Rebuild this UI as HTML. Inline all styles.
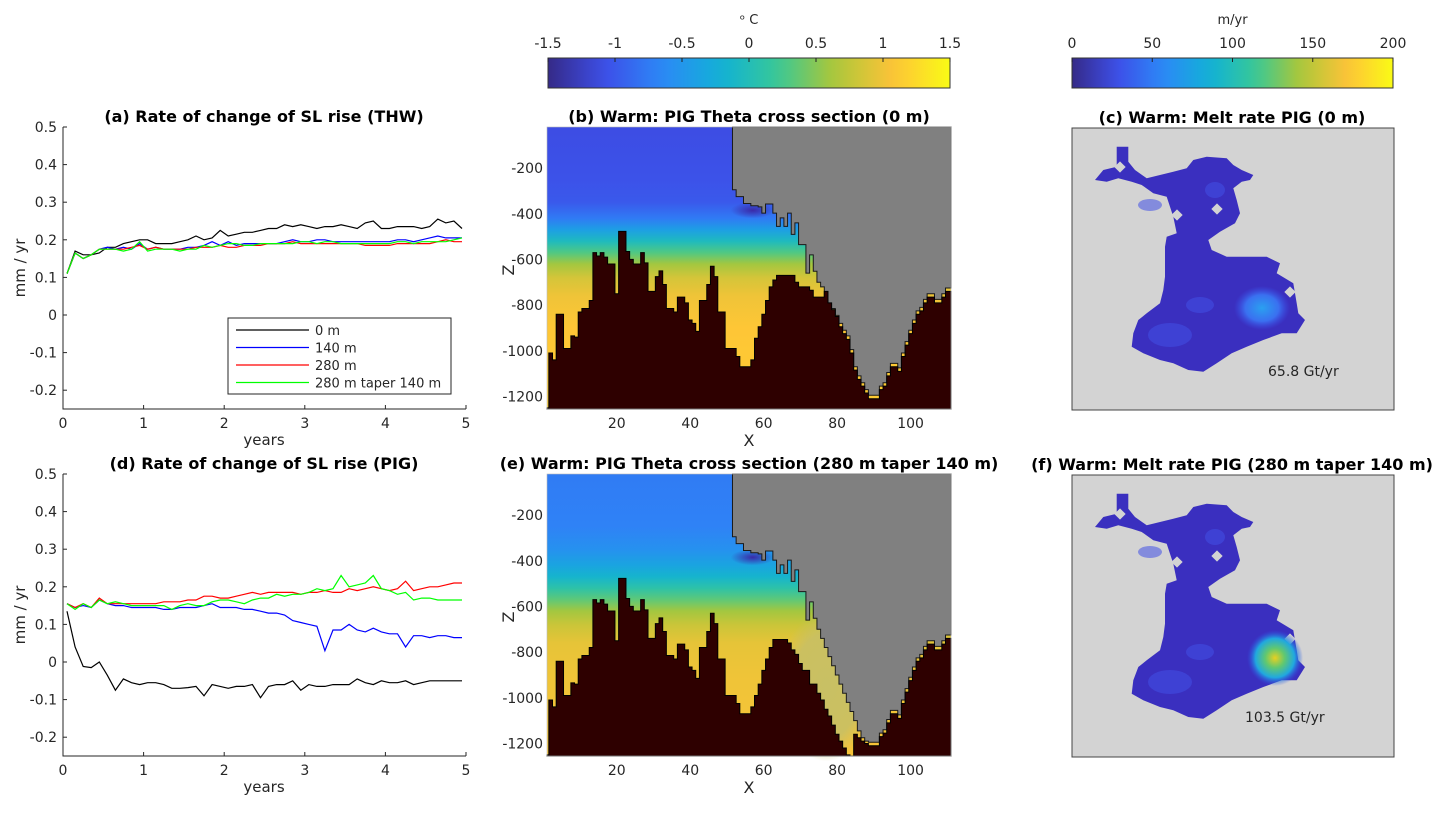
<!DOCTYPE html>
<html><head><meta charset="utf-8"><style>
body{margin:0;background:#fff}
svg text{font-family:"DejaVu Sans","Liberation Sans",sans-serif}
</style></head><body>
<svg id="fig" xmlns="http://www.w3.org/2000/svg" width="1445" height="810" viewBox="0 0 1445 810">
<defs>
<linearGradient id="cb1" x1="0" x2="1" y1="0" y2="0"></linearGradient>
<linearGradient id="gb" gradientUnits="userSpaceOnUse"></linearGradient>
<linearGradient id="ge" gradientUnits="userSpaceOnUse"></linearGradient>
<radialGradient id="hot" cx="0.5" cy="0.5" r="0.5">
<stop offset="0" stop-color="#e8d020"/><stop offset="0.35" stop-color="#60c870"/><stop offset="0.7" stop-color="#20a8e0"/><stop offset="1" stop-color="#3050e8" stop-opacity="0"/>
</radialGradient>
<radialGradient id="warm" cx="0.5" cy="0.5" r="0.5">
<stop offset="0" stop-color="#2aa0f0"/><stop offset="0.6" stop-color="#3a70f0"/><stop offset="1" stop-color="#3a50e8" stop-opacity="0"/>
</radialGradient>
<radialGradient id="plume" cx="0.5" cy="0.5" r="0.5">
<stop offset="0" stop-color="#3a2aa8"/><stop offset="1" stop-color="#3a2aa8" stop-opacity="0"/>
</radialGradient>
<radialGradient id="khaki" cx="0.5" cy="0.5" r="0.5">
<stop offset="0" stop-color="#c8c064"/><stop offset="0.7" stop-color="#c8c064" stop-opacity="0.9"/><stop offset="1" stop-color="#c8c064" stop-opacity="0"/>
</radialGradient>
</defs>
<g id="root"></g>
</svg>
<script>
// ---------- line chart data ----------
const years=[0.05,0.15,0.25,0.35,0.45,0.55,0.65,0.75,0.85,0.95,1.05,1.15,1.25,1.35,1.45,1.55,1.65,1.75,1.85,1.95,2.05,2.15,2.25,2.35,2.45,2.55,2.65,2.75,2.85,2.95,3.05,3.15,3.25,3.35,3.45,3.55,3.65,3.75,3.85,3.95,4.05,4.15,4.25,4.35,4.45,4.55,4.65,4.75,4.85,4.95];
const thw0=[0.11,0.17,0.16,0.16,0.165,0.18,0.18,0.19,0.195,0.2,0.2,0.19,0.19,0.19,0.195,0.2,0.21,0.2,0.205,0.225,0.21,0.215,0.22,0.22,0.225,0.23,0.23,0.24,0.235,0.24,0.235,0.23,0.235,0.235,0.24,0.235,0.23,0.245,0.25,0.23,0.23,0.235,0.235,0.235,0.23,0.235,0.255,0.245,0.25,0.23];
const thw140=[0.11,0.165,0.15,0.16,0.175,0.18,0.175,0.18,0.175,0.19,0.175,0.18,0.175,0.175,0.175,0.18,0.18,0.185,0.195,0.185,0.195,0.185,0.19,0.19,0.19,0.19,0.19,0.195,0.2,0.195,0.195,0.2,0.2,0.195,0.195,0.195,0.195,0.195,0.195,0.195,0.195,0.2,0.2,0.195,0.2,0.205,0.21,0.205,0.205,0.205];
const thw280=[0.11,0.165,0.15,0.16,0.175,0.175,0.175,0.175,0.18,0.185,0.175,0.18,0.175,0.175,0.175,0.175,0.18,0.18,0.18,0.185,0.18,0.18,0.185,0.185,0.185,0.19,0.19,0.19,0.195,0.19,0.19,0.19,0.19,0.19,0.19,0.19,0.19,0.185,0.185,0.185,0.185,0.19,0.19,0.19,0.19,0.19,0.195,0.2,0.195,0.195];
const thwTaper=[0.11,0.165,0.15,0.16,0.175,0.175,0.175,0.17,0.175,0.195,0.17,0.175,0.175,0.175,0.17,0.175,0.175,0.185,0.18,0.185,0.19,0.19,0.185,0.185,0.19,0.19,0.19,0.19,0.19,0.195,0.195,0.19,0.195,0.195,0.19,0.19,0.19,0.19,0.19,0.19,0.19,0.195,0.195,0.19,0.195,0.195,0.195,0.195,0.2,0.205];
const pig0=[0.135,0.04,-0.012,-0.015,0.0,-0.035,-0.075,-0.045,-0.055,-0.06,-0.055,-0.055,-0.06,-0.07,-0.07,-0.068,-0.065,-0.09,-0.06,-0.065,-0.07,-0.065,-0.065,-0.06,-0.095,-0.065,-0.06,-0.06,-0.05,-0.075,-0.06,-0.065,-0.065,-0.06,-0.06,-0.06,-0.045,-0.055,-0.06,-0.05,-0.055,-0.055,-0.05,-0.06,-0.055,-0.05,-0.05,-0.05,-0.05,-0.05];
const pig140=[0.155,0.145,0.15,0.145,0.165,0.155,0.15,0.15,0.145,0.145,0.145,0.145,0.14,0.14,0.145,0.145,0.145,0.15,0.155,0.145,0.145,0.145,0.14,0.14,0.135,0.13,0.13,0.125,0.11,0.105,0.1,0.095,0.03,0.085,0.085,0.1,0.085,0.08,0.09,0.08,0.075,0.075,0.04,0.07,0.07,0.065,0.07,0.07,0.065,0.065];
const pig280=[0.155,0.145,0.155,0.145,0.17,0.155,0.155,0.155,0.155,0.155,0.155,0.155,0.16,0.16,0.16,0.165,0.165,0.175,0.175,0.17,0.17,0.175,0.18,0.185,0.18,0.185,0.185,0.185,0.185,0.18,0.185,0.185,0.19,0.185,0.185,0.195,0.19,0.195,0.2,0.195,0.19,0.195,0.215,0.19,0.195,0.2,0.2,0.205,0.21,0.21];
const pigTaper=[0.155,0.14,0.155,0.145,0.165,0.155,0.16,0.155,0.15,0.15,0.15,0.15,0.15,0.14,0.15,0.155,0.15,0.15,0.16,0.165,0.165,0.16,0.155,0.165,0.17,0.17,0.18,0.175,0.18,0.18,0.185,0.195,0.19,0.195,0.23,0.2,0.205,0.21,0.23,0.195,0.19,0.18,0.185,0.165,0.17,0.17,0.165,0.165,0.165,0.165];
const yTicks=[0.5,0.4,0.3,0.2,0.1,0,-0.1,-0.2];
const yTickLabels=["0.5","0.4","0.3","0.2","0.1","0","-0.1","-0.2"];
const xTicks=[0,1,2,3,4,5];
const legendLabels=["0 m","140 m","280 m","280 m taper 140 m"];
// ---------- cross section data ----------
const bedB=[-1250,-1010,-1040,-840,-840,-990,-990,-935,-940,-830,-815,-815,-780,-570,-585,-570,-590,-620,-620,-750,-477,-477,-565,-600,-620,-620,-570,-615,-740,-740,-675,-650,-710,-815,-815,-830,-765,-765,-790,-865,-880,-915,-780,-780,-710,-630,-675,-830,-830,-990,-990,-990,-1025,-1070,-1070,-1070,-1040,-945,-895,-840,-780,-720,-690,-670,-670,-670,-670,-670,-700,-720,-720,-720,-735,-765,-765,-765,-740,-790,-820,-850,-895,-925,-950,-1010,-1085,-1125,-1155,-1185,-1210,-1210,-1210,-1170,-1155,-1110,-1070,-1070,-1090,-1025,-975,-925,-880,-840,-825,-790,-765,-765,-790,-790,-765,-740,-740];
const bedE=[-1250,-1010,-1040,-840,-840,-990,-990,-935,-940,-830,-815,-815,-780,-570,-585,-570,-590,-620,-620,-750,-477,-477,-565,-600,-620,-620,-570,-615,-740,-740,-675,-650,-710,-815,-815,-830,-765,-765,-790,-865,-880,-915,-780,-780,-710,-630,-675,-830,-830,-990,-990,-990,-1025,-1070,-1070,-1070,-1040,-990,-940,-880,-830,-780,-745,-745,-745,-745,-760,-790,-810,-850,-880,-880,-940,-940,-980,-1010,-1050,-1080,-1120,-1160,-1190,-1220,-1250,-1255,-1160,-1175,-1190,-1200,-1210,-1210,-1210,-1170,-1155,-1110,-1070,-1070,-1090,-1025,-975,-925,-880,-840,-825,-790,-765,-765,-790,-790,-765,-740,-740];
const iceB=[0,0,0,0,0,0,0,0,0,0,0,0,0,0,0,0,0,0,0,0,0,0,0,0,0,0,0,0,0,0,0,0,0,0,0,0,0,0,0,0,0,0,0,0,0,0,0,0,0,0,0,-295,-325,-325,-355,-355,-365,-365,-370,-397,-357,-357,-397,-455,-418,-455,-397,-490,-440,-535,-535,-660,-580,-652,-700,-720,-777,-815,-815,-845,-880,-910,-935,-995,-1070,-1110,-1140,-1170,-1195,-1195,-1195,-1155,-1140,-1095,-1055,-1055,-1075,-1010,-960,-910,-865,-825,-810,-775,-750,-750,-775,-775,-750,-725,-725];
const iceE=[0,0,0,0,0,0,0,0,0,0,0,0,0,0,0,0,0,0,0,0,0,0,0,0,0,0,0,0,0,0,0,0,0,0,0,0,0,0,0,0,0,0,0,0,0,0,0,0,0,0,0,-295,-325,-325,-355,-355,-365,-365,-370,-397,-357,-357,-397,-455,-418,-455,-397,-490,-440,-535,-535,-660,-580,-652,-700,-740,-780,-820,-860,-900,-940,-980,-1020,-1060,-1100,-1145,-1175,-1190,-1195,-1195,-1195,-1155,-1140,-1095,-1055,-1055,-1075,-1010,-960,-910,-865,-825,-810,-775,-750,-750,-775,-775,-750,-725,-725];
const profDepth=[0,-250,-350,-420,-470,-520,-570,-620,-680,-760,-900,-1260];
const profTempB=[-1.1,-1.05,-1.0,-0.75,-0.4,-0.05,0.3,0.6,0.85,1.0,1.1,1.15];
const profTempE=[-0.75,-0.7,-0.55,-0.35,-0.15,0.1,0.35,0.6,0.8,0.95,1.0,1.05];
const zTicks=[-200,-400,-600,-800,-1000,-1200];
const xsTicks=[20,40,60,80,100];
const cbTempTicks=[-1.5,-1,-0.5,0,0.5,1,1.5];
const cbMeltTicks=[0,50,100,150,200];
const meltTotals=["65.8 Gt/yr","103.5 Gt/yr"];

const NS="http://www.w3.org/2000/svg";
const root=document.getElementById('root');
function mk(tag,attrs,parent){const e=document.createElementNS(NS,tag);for(const k in attrs)e.setAttribute(k,attrs[k]);(parent||root).appendChild(e);return e;}
function txt(s,attrs,parent){const e=mk('text',attrs,parent);e.textContent=s;return e;}
const parula=[[0,[53,42,135]],[0.14,[61,78,232]],[0.28,[45,135,247]],[0.43,[17,177,214]],[0.57,[55,200,151]],[0.71,[171,199,57]],[0.86,[254,195,56]],[1,[249,251,21]]];
function pc(t){t=Math.max(0,Math.min(1,t));for(let i=1;i<parula.length;i++){if(t<=parula[i][0]){const a=parula[i-1],b=parula[i];const f=(t-a[0])/(b[0]-a[0]);const c=a[1].map((v,j)=>Math.round(v+(b[1][j]-v)*f));return `rgb(${c[0]},${c[1]},${c[2]})`;}}return 'rgb(249,251,21)';}
const tc="#262626";
const TF=16;

// ---------- line charts ----------
function lineChart(id,top,title,series,legend){
  const L=63,R=466,B=top+282;
  const g=mk('g',{});
  const xs=v=>L+(v/5)*(R-L);
  const ys=v=>top+(0.5-v)/0.75*(B-top);
  const t=txt(title,{x:264,y:top-5,'text-anchor':'middle','font-size':TF,'font-weight':'bold',fill:'#000'},g);
  
  const ax=mk('path',{d:`M${L},${top}V${B}H${R}`,fill:'none',stroke:tc,'stroke-width':1},g);
  
  yTicks.forEach((v,i)=>{mk('line',{x1:L,x2:L+4,y1:ys(v),y2:ys(v),stroke:tc},g);
    const l=txt(yTickLabels[i],{x:L-6,y:ys(v)+5,'text-anchor':'end','font-size':14,fill:tc},g);
    });
  xTicks.forEach(v=>{mk('line',{x1:xs(v),x2:xs(v),y1:B,y2:B-4,stroke:tc},g);
    const l=txt(String(v),{x:xs(v),y:B+19,'text-anchor':'middle','font-size':14,fill:tc},g);
    });
  const xl=txt('years',{x:264,y:B+36,'text-anchor':'middle','font-size':15,fill:tc},g);
  
  const yl=txt('mm / yr',{x:0,y:0,'text-anchor':'middle','font-size':15,fill:tc,transform:`translate(25,${(top+B)/2}) rotate(-90)`},g);
  
  series.forEach(s=>{const d=years.map((x,i)=>(i?'L':'M')+xs(x).toFixed(1)+','+ys(s.v[i]).toFixed(1)).join('');
    const p=mk('path',{d,fill:'none',stroke:s.c,'stroke-width':1.2},g);
    });
  if(legend){const lg=mk('g',{},g);
    mk('rect',{x:228,y:318,width:223,height:76,fill:'#fff',stroke:tc},lg);
    series.forEach((s,i)=>{const y=330+i*17.5;
      const e=mk('g',{},lg);
      mk('line',{x1:236,x2:309,y1:y,y2:y,stroke:s.c,'stroke-width':1.2},e);
      txt(legendLabels[i],{x:315,y:y+5,'font-size':13,fill:tc},e);});}
}
lineChart('thw-chart',127,'(a) Rate of change of SL rise (THW)',[{n:'0m',c:'#000',v:thw0},{n:'140m',c:'#0000ff',v:thw140},{n:'280m',c:'#ff0000',v:thw280},{n:'280m-taper',c:'#00ff00',v:thwTaper}],true);
lineChart('pig-chart',474,'(d) Rate of change of SL rise (PIG)',[{n:'0m',c:'#000',v:pig0},{n:'140m',c:'#0000ff',v:pig140},{n:'280m',c:'#ff0000',v:pig280},{n:'280m-taper',c:'#00ff00',v:pigTaper}],false);

// ---------- gradients ----------
function fillGrad(id,top,temps){const gr=document.getElementById(id);
  const B=top+282;const zs=z=>top+(-20-z)/1235*(B-top);
  const y0=zs(0),y1=zs(-1260);
  gr.setAttribute('x1',560);gr.setAttribute('x2',560);gr.setAttribute('y1',y0);gr.setAttribute('y2',y1);
  profDepth.forEach((z,i)=>{const f=(zs(z)-y0)/(y1-y0);mk('stop',{offset:Math.max(0,Math.min(1,f)),'stop-color':pc((temps[i]+1.5)/3)},gr);});}
fillGrad('gb',127,profTempB);fillGrad('ge',474,profTempE);

// ---------- cross sections ----------
function section(id,top,title,bed,ice,grad,khaki){
  const L=547,R=951,B=top+282;
  const xs=v=>L+(v-1)/110*(R-L);
  const zs=z=>top+(-20-z)/1235*(B-top);
  const g=mk('g',{});
  const t=txt(title,{x:(L+R)/2,y:top-5,'text-anchor':'middle','font-size':TF,'font-weight':'bold',fill:'#000'},g);
  
  const w=mk('rect',{x:L,y:top,width:R-L,height:B-top,fill:`url(#${grad})`},g);
  
  if(khaki){const k=mk('ellipse',{cx:xs(77),cy:zs(-950),rx:48,ry:75,fill:'url(#khaki)'},g);
    }
  const cold=mk('ellipse',{cx:xs(57),cy:zs(-385),rx:22,ry:8,fill:'url(#plume)'},g);
  
  let d='',first=true;
  for(let i=0;i<ice.length;i++){if(ice[i]===0)continue;const x0=xs(Math.max(1,i+0.5)),x1=xs(Math.min(111,i+1.5));
    if(first){d=`M${x0},${top}L${x0},${zs(ice[i])}`;first=false;}else d+=`L${x0},${zs(ice[i])}`;d+=`L${x1},${zs(ice[i])}`;}
  d+=`L${R},${top}Z`;
  const ip=mk('path',{d,fill:'#808080',stroke:'#1a1a1a','stroke-width':1},g);
  
  let bd=`M${L},${B}`;
  bed.forEach((z,i)=>{const x0=xs(Math.max(1,i+0.5)),x1=xs(Math.min(111,i+1.5));bd+=`L${x0},${zs(z)}L${x1},${zs(z)}`;});
  bd+=`L${R},${B}Z`;
  const bp=mk('path',{d:bd,fill:'#2e0000',stroke:'#000','stroke-width':1},g);
  
  mk('rect',{x:L,y:top,width:R-L,height:B-top,fill:'none',stroke:'#bbb','stroke-width':0.6},g);
  zTicks.forEach(z=>{const l=txt(String(z),{x:L-4,y:zs(z)+5,'text-anchor':'end','font-size':14,fill:tc},g);
    });
  xsTicks.forEach(v=>{const l=txt(String(v),{x:xs(v),y:B+19,'text-anchor':'middle','font-size':14,fill:tc},g);
    });
  const xl=txt('X',{x:749,y:B+37,'text-anchor':'middle','font-size':16,fill:tc},g);
  
  const yl=txt('Z',{x:0,y:0,'text-anchor':'middle','font-size':16,fill:tc,transform:`translate(514,${top+143}) rotate(-90)`},g);
  
}
section('theta-section-0m',127,'(b) Warm: PIG Theta cross section (0 m)',bedB,iceB,'gb',false);
section('theta-section-taper',474,'(e) Warm: PIG Theta cross section (280 m taper 140 m)',bedE,iceE,'ge',true);

// ---------- colorbars ----------
const cg=document.getElementById('cb1');
for(let i=0;i<=20;i++)mk('stop',{offset:i/20,'stop-color':pc(i/20)},cg);
function colorbar(id,L,R,ticks,title){
  const g=mk('g',{});
  mk('rect',{x:L,y:58,width:R-L,height:30,fill:'url(#cb1)',stroke:'#333','stroke-width':1},g);
  const a=ticks[0],b=ticks[ticks.length-1];
  ticks.forEach(v=>{const x=L+(v-a)/(b-a)*(R-L);mk('line',{x1:x,x2:x,y1:58,y2:62,stroke:'#222'},g);
    const l=txt(String(v),{x,y:48,'text-anchor':'middle','font-size':14,fill:tc},g);
    });
  const t=txt(title,{x:(L+R)/2,y:24,'text-anchor':'middle','font-size':13,fill:tc},g);
  
}
colorbar('temp-colorbar',548,950,cbTempTicks,'\u1D52 C');
colorbar('melt-colorbar',1072,1393,cbMeltTicks,'m/yr');

// ---------- melt maps ----------
const shelfPts=[[1116.7,146.7],[1128.3,146.7],[1128.3,161.7],[1135,170],[1146.7,178.3],[1160,175],[1173.3,171.7],[1186.7,168.3],[1193.3,160],[1206.7,156.7],[1226.7,158.3],[1233.3,165],[1241.7,170],[1253.3,175],[1250,180],[1241.7,181.7],[1233.3,188.3],[1236.7,200],[1240,213.3],[1235,223.3],[1220,231.7],[1208.3,240],[1211.7,250],[1226.7,256.7],[1266.7,256.7],[1280,263.3],[1276.7,273.3],[1293.3,283.3],[1296.7,303.3],[1298.3,313.3],[1305,320],[1296.7,333.3],[1281.7,333.3],[1263.3,340],[1246.7,346.7],[1231.7,353.3],[1216.7,363.3],[1203.3,371.7],[1188.3,370],[1173.3,363.3],[1160,360],[1143.3,353.3],[1131.7,346.7],[1133.3,333.3],[1138.3,320],[1146.7,313.3],[1160,303.3],[1163.3,290],[1165,276.7],[1165,246.7],[1166.7,236.7],[1176.7,233.3],[1173.3,216.7],[1166.7,196.7],[1153.3,193.3],[1141.7,185],[1131.7,181.7],[1118.3,178.3],[1106.7,181.7],[1095,180],[1103.3,170],[1116.7,166.7]];
function meltMap(id,top,title,total,hot){
  const off=top-128;
  const g=mk('g',{});
  const t=txt(title,{x:1232,y:top-5,'text-anchor':'middle','font-size':TF,'font-weight':'bold',fill:'#000'},g);
  
  mk('rect',{x:1072,y:top,width:322,height:282,fill:'#d3d3d3',stroke:'#444','stroke-width':1},g);
  const s=mk('polygon',{points:shelfPts.map(p=>p[0]+','+(p[1]+off)).join(' '),fill:'#3a2fbf'},g);
  
  [[1170,335,22,12],[1200,305,14,8],[1150,205,12,6],[1215,190,10,8]].forEach(b=>mk('ellipse',{cx:b[0],cy:b[1]+off,rx:b[2],ry:b[3],fill:'#4250e6',opacity:0.55},g));
  [[1120,167],[1177,215],[1217,209],[1290,292]].forEach(b=>mk('rect',{x:b[0]-4,y:b[1]+off-4,width:8,height:8,fill:'#d3d3d3',transform:`rotate(45 ${b[0]} ${b[1]+off})`},g));
  if(hot){mk('ellipse',{cx:1275,cy:top+183,rx:28,ry:28,fill:'url(#hot)'},g);}
  else mk('ellipse',{cx:1262,cy:top+180,rx:28,ry:22,fill:'url(#warm)'},g);
  const l=txt(total,{x:hot?1245:1268,y:top+(hot?247:248),'font-size':14,fill:tc},g);
  
}
meltMap('melt-map-0m',128,'(c) Warm: Melt rate PIG (0 m)',meltTotals[0],false);
meltMap('melt-map-taper',475,'(f) Warm: Melt rate PIG (280 m taper 140 m)',meltTotals[1],true);
</script>
</body></html>
